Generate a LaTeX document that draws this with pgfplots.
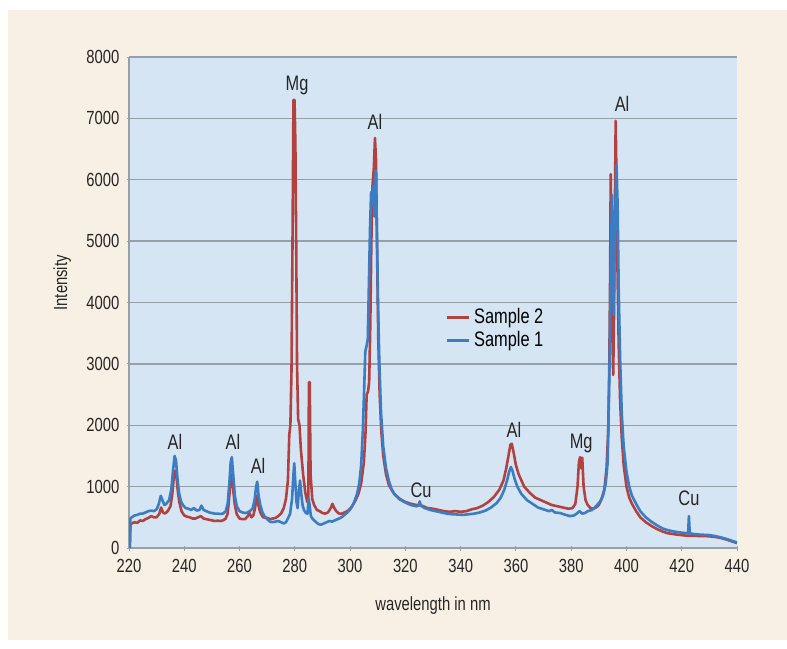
\documentclass[border=0pt]{standalone}
\usepackage{pgfplots}
\pgfplotsset{compat=1.18}
\usepackage{fontspec}
\setmainfont{Liberation Sans}[FakeStretch=0.78]
\definecolor{bgbeige}{RGB}{248,240,228}
\definecolor{plotbg}{RGB}{213,229,243}
\definecolor{gridc}{RGB}{150,160,168}
\definecolor{redc}{RGB}{178,66,64}
\definecolor{bluec}{RGB}{60,124,196}
\begin{document}
\begin{tikzpicture}
\fill[white] (0,0) rectangle (393.5pt,324pt);
\fill[bgbeige] (4pt,4pt) rectangle (393.5pt,319pt);
\begin{axis}[
  at={(64.5pt,50pt)}, anchor=south west,
  scale only axis, width=304pt, height=245.5pt,
  xmin=220, xmax=440, ymin=0, ymax=8000,
  xtick={220,240,...,440}, ytick={0,1000,...,8000},
  xtick pos=bottom, ytick pos=left,
  tick align=outside, major tick length=2.5pt,
  tick style={gridc, line width=0.5pt},
  ymajorgrids, grid style={gridc, line width=0.7pt},
  axis lines=left, axis line style={-, gridc, line width=0.7pt},
  axis background/.style={fill=plotbg},
  /pgf/number format/assume math mode=true,
  /pgf/number format/1000 sep={},
  tick label style={font=\fontsize{9.5}{11}\selectfont, text=black!85},
  xticklabel style={yshift=-1pt},
  label style={font=\fontsize{9.5}{11}\selectfont, text=black!85},
  xlabel={wavelength in nm},
  ylabel={Intensity},
  xlabel style={at={(axis description cs:0.5,-0.118)}, anchor=center},
  ylabel style={at={(axis description cs:-0.11,0.54)}, anchor=center},
  legend style={draw=none, fill=none, at={(0.51,0.505)}, anchor=north west,
    font=\fontsize{10.5}{12}\selectfont, row sep=-1.5pt},
  legend cell align=left,
  legend image code/.code={\draw[#1] (0pt,0pt) -- (11pt,0pt);},
  clip=true,
]
\addplot[redc, line width=1.3pt, line join=round] coordinates {
(220.3,0) (220.5,380) (221,400) (222,420) (223,410) (224,450) (225,440) (226,470) (227,490) (228,520) (229,500) (230,500) (231,560) (231.6,660) (232.3,580) (233,560) (234,600) (235,680) (235.6,850) (236.2,1150) (236.6,1260) (237.1,1200) (237.6,950) (238.2,750) (239,600) (240,530) (241,510) (242,500) (243,480) (244,480) (245,500) (246,520) (247,480) (248,470) (249,460) (250,450) (251,440) (252,445) (253,440) (254,450) (255,480) (255.7,560) (256.3,850) (256.8,1130) (257.2,1200) (257.7,950) (258.3,700) (259,550) (260,480) (261,470) (262,470) (263,520) (263.6,570) (264.3,500) (265,530) (265.6,650) (266.2,850) (266.8,700) (267.5,580) (268.5,500) (270,490) (271,470) (272,480) (273,490) (274,520) (275,560) (276,650) (276.8,800) (277.5,1100) (278,1850) (278.4,2000) (278.8,2900) (279.2,5200) (279.5,7300) (279.9,7300) (280.2,6600) (280.5,5000) (280.8,3000) (281.2,2100) (281.7,2000) (282.2,1600) (283,1200) (283.8,900) (284.5,750) (284.9,750) (285.1,2700) (285.4,2700) (285.7,1200) (286.3,800) (287,700) (288,620) (289,600) (290,570) (291,560) (292,580) (293,650) (293.6,720) (294.3,650) (295,600) (296,560) (297,560) (298,580) (299,600) (300,640) (301,700) (302,780) (303,880) (304,1050) (305,1400) (305.6,1900) (306,2500) (306.5,2550) (306.9,2700) (307.3,3600) (307.7,5000) (308.1,5900) (308.6,6200) (309.0,6680) (309.4,6300) (309.8,4700) (310.2,3400) (310.7,2500) (311.3,1900) (312,1500) (313,1200) (314,1030) (315,950) (316,880) (318,800) (320,750) (322,720) (324,700) (325,700) (326,690) (328,650) (330,640) (332,620) (334,600) (336,590) (338,600) (340,590) (342,600) (344,630) (346,650) (348,690) (350,750) (352,830) (354,950) (355.5,1100) (356.5,1300) (357.3,1500) (358,1680) (358.5,1700) (359.2,1550) (360,1350) (361,1200) (362,1100) (363,1000) (365,900) (367,820) (369,780) (371,740) (373,700) (375,680) (377,660) (379,640) (380.5,650) (381.5,720) (382.3,1000) (382.8,1400) (383.2,1480) (383.6,1300) (384,1470) (384.5,1000) (385.2,780) (386,700) (387,650) (388,640) (389,660) (390,700) (391,800) (392,950) (392.8,1300) (393.4,1900) (393.8,3000) (394.1,4500) (394.3,6090) (394.6,4800) (394.9,3500) (395.2,2820) (395.5,3800) (395.8,5500) (396.1,6960) (396.4,6000) (396.8,4400) (397.2,3300) (397.7,2400) (398.3,1800) (399,1350) (400,1000) (401,820) (402,720) (403.5,600) (405,500) (407,420) (409,360) (411,310) (413,270) (415,240) (418,220) (420,210) (422,200) (424,200) (426,195) (428,195) (430,190) (432,180) (434,165) (436,140) (438,110) (440,80)
};
\addlegendentry{Sample 2}
\addplot[bluec, line width=1.3pt, line join=round] coordinates {
(220.3,0) (220.5,480) (221,500) (222,530) (223,540) (224,560) (225,560) (226,580) (227,600) (228,610) (229,600) (230,630) (230.8,720) (231.5,850) (232.1,780) (232.8,700) (233.5,720) (234.5,780) (235.3,950) (235.9,1250) (236.5,1500) (237,1430) (237.5,1150) (238.1,900) (238.8,760) (239.5,700) (240.5,650) (241.5,640) (242.5,620) (243.5,650) (244.5,610) (245.5,620) (246.2,690) (247,620) (248,600) (249,580) (250,570) (251,560) (252,560) (253,555) (254,560) (255,600) (255.7,720) (256.3,1050) (256.8,1400) (257.2,1480) (257.7,1200) (258.3,850) (259,680) (260,600) (261,580) (262,570) (263,580) (264,610) (264.8,650) (265.5,800) (266,1000) (266.4,1080) (266.9,850) (267.5,700) (268.3,580) (269,520) (270,470) (271,430) (272,420) (273,430) (274,440) (275,420) (276,400) (276.8,420) (277.5,480) (278.3,560) (279,800) (279.5,1200) (279.8,1380) (280.2,1050) (280.6,750) (281,650) (281.5,950) (281.9,1100) (282.3,900) (282.8,700) (283.3,620) (284,570) (284.6,560) (285,800) (285.3,720) (285.8,520) (286.5,470) (287.5,430) (288.5,390) (289.5,380) (290.5,400) (291.5,420) (292.5,440) (293.5,430) (294.5,450) (295.5,470) (296.5,490) (297.5,520) (298.5,560) (299.5,600) (300.5,660) (301.5,750) (302.5,880) (303.3,1050) (304,1350) (304.6,1900) (305.1,2600) (305.5,3200) (306,3300) (306.4,3400) (306.8,4300) (307.2,5200) (307.6,5800) (308,5600) (308.4,5900) (308.8,5400) (309.3,6150) (309.7,5200) (310.1,4000) (310.6,3000) (311.2,2200) (312,1650) (313,1300) (314,1100) (315,960) (316,880) (318,790) (320,740) (322,700) (324,680) (324.8,690) (325.2,760) (325.6,690) (327,650) (329,620) (331,600) (333,580) (335,560) (337,550) (339,545) (341,540) (343,550) (345,560) (347,580) (349,610) (351,660) (353,730) (354.5,820) (355.8,950) (356.8,1100) (357.6,1250) (358.2,1320) (358.8,1250) (359.5,1130) (360.5,1000) (362,880) (364,780) (366,720) (368,660) (370,630) (372,600) (373,620) (374,580) (376,570) (378,540) (379.5,520) (381,530) (382,560) (383,600) (384,560) (385,570) (386,600) (387.5,620) (389,680) (390.5,760) (391.5,850) (392.5,1050) (393.2,1400) (393.6,2300) (394,3300) (394.4,4800) (394.8,5750) (395.1,4500) (395.4,3800) (395.7,4800) (396.0,5600) (396.4,6240) (396.8,5600) (397.2,4200) (397.7,3100) (398.3,2200) (399,1650) (400,1250) (401,1000) (402,850) (403.5,720) (405,600) (407,500) (409,430) (411,370) (413,320) (415,290) (417,270) (419,255) (421,245) (422.3,240) (422.6,520) (422.9,240) (424,230) (426,220) (428,215) (430,210) (432,195) (434,175) (436,150) (438,120) (440,90)
};
\addlegendentry{Sample 1}
\begin{scope}[every node/.style={font=\fontsize{10.5}{12}\selectfont, text=black!85}]
\node at (axis cs:236.6,1727) {Al};
\node at (axis cs:257.6,1727) {Al};
\node at (axis cs:266.7,1336) {Al};
\node at (axis cs:280.8,7544) {Mg};
\node at (axis cs:309,6941) {Al};
\node at (axis cs:325.7,945) {Cu};
\node at (axis cs:359.3,1923) {Al};
\node at (axis cs:383.6,1711) {Mg};
\node at (axis cs:398.4,7234) {Al};
\node at (axis cs:422.6,815) {Cu};
\end{scope}
\end{axis}
\end{tikzpicture}
\end{document}
